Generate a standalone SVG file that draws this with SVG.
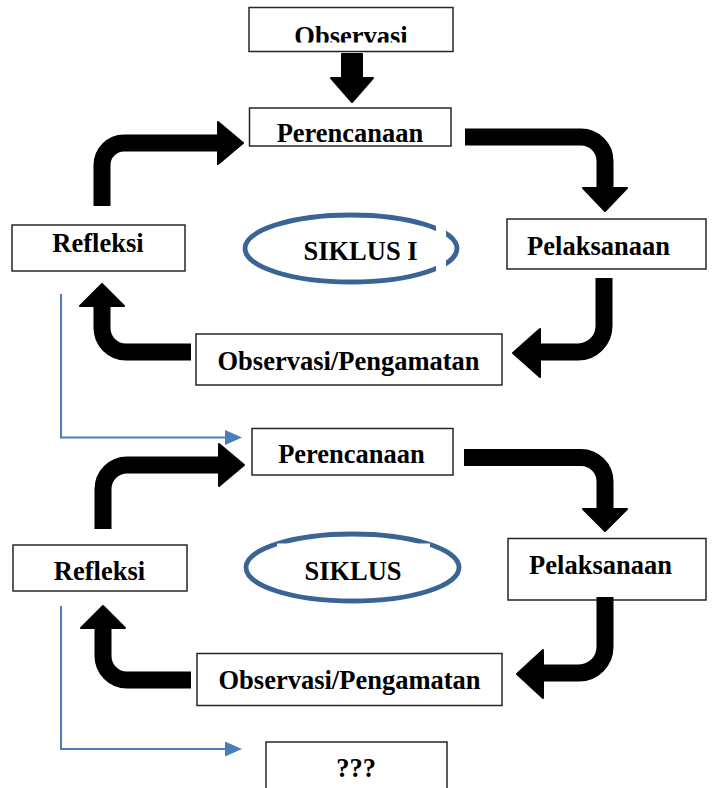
<svg xmlns="http://www.w3.org/2000/svg" width="712" height="788" viewBox="0 0 712 788">
<style>
.box{fill:#fff;stroke:#262626;stroke-width:1.5}
.t{font-family:"Liberation Serif","Times New Roman",serif;font-weight:bold;font-size:26.5px;fill:#000;text-anchor:middle}
.sh{fill:none;stroke:#000;stroke-width:17}
.hd{fill:#000;stroke:#000;stroke-width:2;stroke-linejoin:round}
.bl{fill:none;stroke:#4a7ebb;stroke-width:2}
.bh{fill:#4a7ebb}
.el{fill:none;stroke:#3a6496;stroke-width:4.8}
</style>
<defs>
<clipPath id="clipObs"><rect x="249" y="7" width="204" height="35.5"/></clipPath>
</defs>
<rect width="712" height="788" fill="#fff"/>

<g id="observasi-top">
<rect class="box" x="249" y="7.5" width="204" height="44"/>
<text class="t" x="351" y="45" clip-path="url(#clipObs)">Observasi</text>
</g>

<g id="perencanaan-1">
<rect class="box" x="249.5" y="108" width="201.5" height="38"/>
<text class="t" x="350" y="142">Perencanaan</text>
</g>
<g id="pelaksanaan-1">
<rect class="box" x="507" y="219" width="199" height="50"/>
<text class="t" x="598.5" y="255">Pelaksanaan</text>
</g>
<g id="observasi-pengamatan-1">
<rect class="box" x="196" y="334" width="306" height="51"/>
<text class="t" x="348.5" y="370">Observasi/Pengamatan</text>
</g>
<g id="refleksi-1">
<rect class="box" x="12" y="225" width="173" height="46"/>
<text class="t" x="98" y="252">Refleksi</text>
</g>
<g id="siklus-1">
<ellipse class="el" cx="351" cy="248.5" rx="106" ry="33.5"/>
<rect x="436" y="218" width="10" height="60" fill="#fff"/>
<text class="t" x="360.5" y="260">SIKLUS I</text>
</g>

<g id="perencanaan-2">
<rect class="box" x="252" y="428.5" width="201" height="46.5"/>
<text class="t" x="351.5" y="463">Perencanaan</text>
</g>
<g id="pelaksanaan-2">
<rect class="box" x="508" y="538.5" width="198" height="61.5"/>
<text class="t" x="600.5" y="574">Pelaksanaan</text>
</g>
<g id="observasi-pengamatan-2">
<rect class="box" x="197" y="653.5" width="305" height="52"/>
<text class="t" x="349.5" y="689">Observasi/Pengamatan</text>
</g>
<g id="refleksi-2">
<rect class="box" x="13" y="545" width="174" height="46"/>
<text class="t" x="99.5" y="580">Refleksi</text>
</g>
<g id="siklus-2">
<ellipse class="el" cx="352.5" cy="567.5" rx="106.5" ry="33.5"/>
<rect x="277" y="543.5" width="153" height="44" fill="#fff"/>
<text class="t" x="353" y="580">SIKLUS</text>
</g>

<g id="unknown">
<rect class="box" x="266" y="742" width="181" height="60"/>
<text class="t" x="356" y="777">???</text>
</g>

<g id="connectors">
<polygon class="hd" points="342,54 362,54 362,78 373,78 352,102 331,78 342,78"/>

<path class="sh" d="M102,206 V165 A22,22 0 0 1 124,143 H220"/>
<polygon class="hd" points="218,122 243,143 218,164"/>
<path class="sh" d="M465,137 H581 A24,24 0 0 1 605,161 V190"/>
<polygon class="hd" points="583,188 627,188 605,211"/>
<path class="sh" d="M604,278 V326 A26,26 0 0 1 578,352 H538"/>
<polygon class="hd" points="540,329 513,353 540,377"/>
<path class="sh" d="M191,352 H126 A24,24 0 0 1 102,328 V304"/>
<polygon class="hd" points="80,306 124,306 102,284"/>

<path class="sh" d="M103,529 V489 A24,24 0 0 1 127,465 H221"/>
<polygon class="hd" points="219,444 244,465 219,486"/>
<path class="sh" d="M464,457.5 H581 A24,24 0 0 1 605,481.5 V511"/>
<polygon class="hd" points="583,509 627,509 605,531"/>
<path class="sh" d="M605,597 V647 A26,26 0 0 1 579,673 H541"/>
<polygon class="hd" points="543,650 517,674 543,698"/>
<path class="sh" d="M191,680 H127 A24,24 0 0 1 103,656 V626"/>
<polygon class="hd" points="81,628 125,628 103,606"/>

<path class="bl" d="M61,294 V437.5 H228"/>
<polygon class="bh" points="225,430 242,437.5 225,445"/>
<path class="bl" d="M61,606 V749 H228"/>
<polygon class="bh" points="225,741.5 242,749 225,756.5"/>
</g>
</svg>
